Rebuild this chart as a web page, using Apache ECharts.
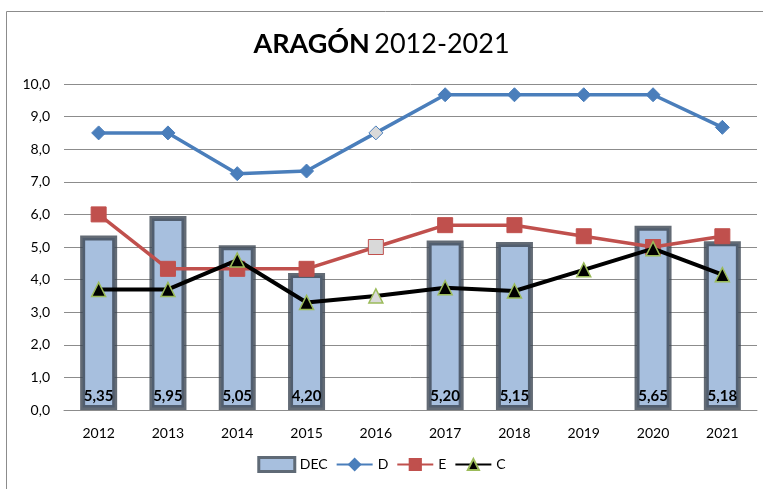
<!DOCTYPE html>
<html>
<head>
<meta charset="utf-8">
<script src="https://cdn.jsdelivr.net/npm/echarts@6/dist/echarts.min.js"></script>
<style>
html,body{margin:0;padding:0;background:#fff;}
#main{width:763px;height:489px;}
</style>
</head>
<body>
<div id="main"></div>
<script>
// datos
var years = ['2012','2013','2014','2015','2016','2017','2018','2019','2020','2021'];
var decData = [5.35, 5.95, 5.05, 4.20, null, 5.20, 5.15, null, 5.65, 5.18];
var dData = [8.5, 8.5, 7.25, 7.33, 8.5, 9.67, 9.67, 9.67, 9.67, 8.67];
var eData = [6.0, 4.33, 4.33, 4.33, 5.0, 5.67, 5.67, 5.33, 5.0, 5.33];
var cData = [3.7, 3.7, 4.6, 3.3, 3.5, 3.75, 3.65, 4.3, 4.95, 4.15];
var greyIdx = 4; // 2016 marcado en gris

var font = 'Lato, "Open Sans", sans-serif';

function conGris(arr){
    return arr.map(function(v, i){
        if(i === greyIdx){
            return {value: v, itemStyle: {color: '#d9d9d9'}};
        }
        return v;
    });
}

var chart = echarts.init(document.getElementById('main'));
var option = {
    animation: false,
    textStyle: {fontFamily: font},
    graphic: [{
        type: 'rect',
        shape: {x: 6.5, y: 11.5, width: 800, height: 600},
        style: {fill: 'none', stroke: '#8c8c8c', lineWidth: 1},
        silent: true
    }],
    title: {
        text: '{b|ARAGÓN} {n|2012-2021}',
        left: 'center',
        top: 26,
        textStyle: {
            rich: {
                b: {fontSize: 27, fontWeight: 'bold', color: '#000', fontFamily: font},
                n: {fontSize: 27, fontWeight: 'normal', color: '#000', fontFamily: font}
            }
        }
    },
    legend: {
        bottom: 11,
        left: 'center',
        itemGap: 8,
        itemWidth: 36,
        itemHeight: 14,
        textStyle: {fontSize: 14, color: '#000', fontFamily: font},
        data: [
            {name: 'DEC', icon: 'rect', itemStyle: {color: '#a7bfde', borderColor: '#5f6a76', borderWidth: 3}},
            {name: 'D'},
            {name: 'E'},
            {name: 'C'}
        ]
    },
    grid: {left: 64, right: 6, top: 84, bottom: 79},
    xAxis: {
        type: 'category',
        data: years,
        axisLine: {lineStyle: {color: '#8c8c8c'}},
        axisTick: {show: false},
        axisLabel: {color: '#000', fontSize: 14, margin: 16, fontFamily: font}
    },
    yAxis: {
        type: 'value',
        min: 0,
        max: 10,
        interval: 1,
        axisLine: {show: false},
        axisTick: {show: false},
        splitLine: {lineStyle: {color: '#8c8c8c', width: 1}},
        axisLabel: {
            color: '#000', fontSize: 14, margin: 14, fontFamily: font,
            formatter: function(v){ return v.toFixed(1).replace('.', ','); }
        }
    },
    series: [{
        name: 'DEC',
        type: 'bar',
        barWidth: 37,
        data: decData,
        itemStyle: {color: '#a7bfde', borderColor: 'rgba(60,70,82,0.8)', borderWidth: 5},
        label: {
            show: true,
            position: 'insideBottom',
            distance: 6,
            color: '#000',
            fontWeight: 'bold',
            fontSize: 15,
            fontFamily: font,
            formatter: function(p){ return p.value.toFixed(2).replace('.', ','); }
        },
        z: 1
    }, {
        name: 'D',
        type: 'line',
        data: conGris(dData),
        symbol: 'diamond',
        symbolSize: 14,
        lineStyle: {color: '#4a7ebb', width: 3.5},
        itemStyle: {color: '#4a7ebb', borderColor: '#4a7ebb', borderWidth: 1},
        z: 3
    }, {
        name: 'E',
        type: 'line',
        data: conGris(eData),
        symbol: 'rect',
        symbolSize: 15,
        lineStyle: {color: '#c0504d', width: 3.5},
        itemStyle: {color: '#c0504d', borderColor: '#c0504d', borderWidth: 1},
        z: 4
    }, {
        name: 'C',
        type: 'line',
        data: conGris(cData),
        symbol: 'triangle',
        symbolSize: 14,
        lineStyle: {color: '#000', width: 4},
        itemStyle: {color: '#000', borderColor: '#9bbb59', borderWidth: 1.5},
        z: 5
    }]
};
chart.setOption(option);
</script>
</body>
</html>
